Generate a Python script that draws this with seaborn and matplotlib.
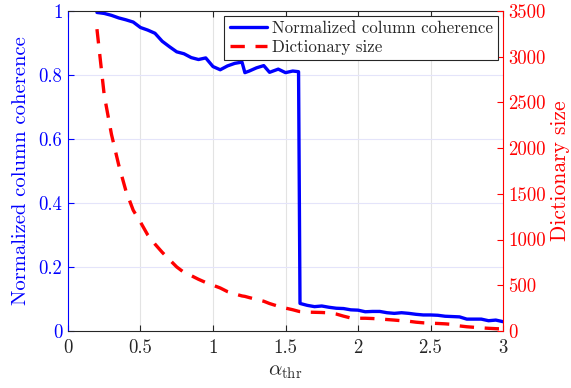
import numpy as np
import pandas as pd
import seaborn as sns
import matplotlib.pyplot as plt
from matplotlib.lines import Line2D

# threshold values (x axis)
alpha_thr = [0.20, 0.25, 0.30, 0.35, 0.40, 0.45, 0.50, 0.55, 0.60, 0.65,
             0.70, 0.75, 0.80, 0.85, 0.90, 0.95, 1.00, 1.05, 1.10, 1.15,
             1.20, 1.22, 1.25, 1.30, 1.35, 1.39, 1.45, 1.50, 1.55, 1.59,
             1.60, 1.65, 1.70, 1.75, 1.80, 1.85, 1.90, 1.95, 2.00, 2.05,
             2.10, 2.15, 2.20, 2.25, 2.30, 2.35, 2.40, 2.45, 2.50, 2.55,
             2.60, 2.65, 2.70, 2.75, 2.80, 2.85, 2.90, 2.95, 3.00]

coherence = [0.995, 0.992, 0.986, 0.978, 0.972, 0.965, 0.948, 0.940, 0.930, 0.905,
             0.888, 0.872, 0.866, 0.854, 0.848, 0.853, 0.826, 0.816, 0.828, 0.836,
             0.840, 0.807, 0.812, 0.822, 0.829, 0.808, 0.818, 0.807, 0.812, 0.810,
             0.086, 0.080, 0.076, 0.078, 0.074, 0.071, 0.070, 0.066, 0.065, 0.060,
             0.061, 0.061, 0.057, 0.055, 0.057, 0.055, 0.052, 0.050, 0.050, 0.049,
             0.046, 0.045, 0.044, 0.037, 0.037, 0.037, 0.032, 0.034, 0.029]

dict_size = [3300, 2580, 2150, 1815, 1530, 1320, 1190, 1050, 950, 860,
             780, 700, 640, 605, 565, 530, 500, 470, 430, 405,
             383, 378, 365, 345, 325, 300, 270, 250, 232, 215,
             212, 206, 204, 202, 198, 185, 162, 142, 139, 139,
             136, 131, 125, 119, 112, 106, 96, 89, 85, 82,
             78, 72, 55, 46, 40, 34, 29, 25, 22]

df = pd.DataFrame({"alpha": alpha_thr, "coh": coherence, "size": dict_size})

sns.set_theme(style="white")
plt.rcParams["font.family"] = ["cmr10", "DejaVu Serif"]
plt.rcParams["mathtext.fontset"] = "cm"
plt.rcParams["axes.formatter.use_mathtext"] = True

fig = plt.figure(figsize=(5.71, 3.88), dpi=100)
ax = fig.add_axes([0.119, 0.147, 0.762, 0.825])
ax2 = ax.twinx()

blue = (0, 0, 1)
red = (1, 0, 0)
dark = "#262626"
dash = (0, (4.3, 3.2))

sns.lineplot(data=df, x="alpha", y="coh", ax=ax, color=blue, lw=2.4)
sns.lineplot(data=df, x="alpha", y="size", ax=ax2, color=red, lw=2.4,
             linestyle=dash)

ax.set_xlim(0, 3)
ax.set_ylim(0, 1)
ax2.set_ylim(0, 3500)
ax.set_xticks([0, 0.5, 1, 1.5, 2, 2.5, 3])
ax.set_xticklabels(["0", "0.5", "1", "1.5", "2", "2.5", "3"])
ax.set_yticks([0, 0.2, 0.4, 0.6, 0.8, 1])
ax.set_yticklabels(["0", "0.2", "0.4", "0.6", "0.8", "1"])
ax2.set_yticks(range(0, 3501, 500))
ax2.set_yticklabels([str(v) for v in range(0, 3501, 500)])

# grid: vertical gray, horizontal light blue
for xv in [0.5, 1, 1.5, 2, 2.5]:
    ax.axvline(xv, color="#e3e3e3", lw=0.8, zorder=0)
for yv in [0.2, 0.4, 0.6, 0.8]:
    ax.axhline(yv, color="#e4e4fa", lw=0.8, zorder=0)

ax.tick_params(axis="x", direction="in", top=True, bottom=True, length=4,
               width=0.8, colors=dark, labelsize=13.5, pad=6)
ax.tick_params(axis="y", direction="in", left=True, right=False, length=4,
               width=0.8, colors=blue, labelsize=13.5, pad=4)
ax2.tick_params(axis="y", direction="in", right=True, length=4, width=0.8,
                colors=red, labelsize=13.5, pad=4)

ax.spines["left"].set_color(blue)
ax.spines["bottom"].set_color(dark)
ax.spines["top"].set_color(dark)
ax2.spines["right"].set_color(red)
ax2.spines["left"].set_visible(False)
ax2.spines["top"].set_visible(False)
ax2.spines["bottom"].set_visible(False)
ax.spines["right"].set_visible(False)
for s in ax.spines.values():
    s.set_linewidth(0.8)
ax2.spines["right"].set_linewidth(0.8)

ax.set_xlabel(r"$\alpha_{\rm thr}$", fontsize=15, color=dark, labelpad=4)
ax.set_ylabel("Normalized column coherence", fontsize=14.8, color=blue, labelpad=6)
ax2.set_ylabel("Dictionary size", fontsize=15.5, color=red, labelpad=3)

handles = [Line2D([], [], color=blue, lw=2.4),
           Line2D([], [], color=red, lw=2.4, linestyle=dash)]
leg = ax2.legend(handles, ["Normalized column coherence", "Dictionary size"],
                 loc="upper right", fontsize=12.2, frameon=True, fancybox=False,
                 framealpha=1, edgecolor=dark, borderpad=0.3, labelspacing=0.2,
                 handlelength=2.2, handletextpad=0.3, borderaxespad=0.3)
leg.get_frame().set_linewidth(0.8)

fig.savefig("out.png", dpi=100)
